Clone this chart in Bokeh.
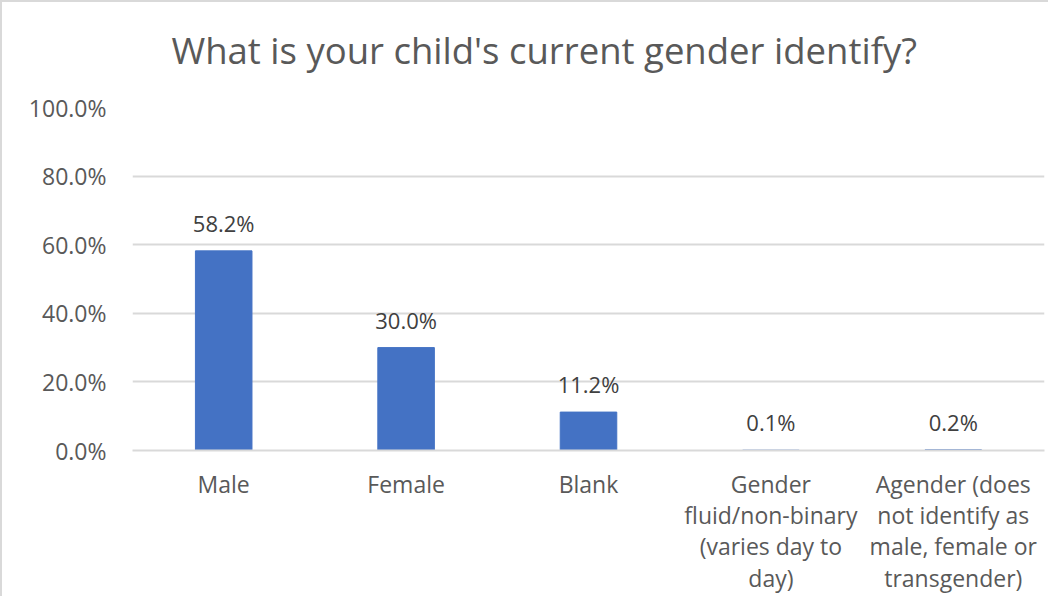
from bokeh.plotting import figure
from bokeh.models import ColumnDataSource, NumeralTickFormatter, FactorRange, Range1d
from bokeh.core.properties import value
from bokeh.embed import file_html
from bokeh.resources import INLINE

title_text = "What is your child's current gender identify?"
categories = ["Male", "Female", "Blank",
              "Gender\nfluid/non-binary\n(varies day to\nday)",
              "Agender (does\nnot identify as\nmale, female or\ntransgender)"]
shares = [0.582, 0.300, 0.112, 0.001, 0.002]
labels = ["58.2%", "30.0%", "11.2%", "0.1%", "0.2%"]

FONT = "Open Sans"
src = ColumnDataSource(dict(cat=categories, val=shares, lab=labels))

p = figure(x_range=FactorRange(*categories), y_range=Range1d(0, 1),
           frame_width=912, frame_height=343, output_backend="svg", toolbar_location=None,
           title=title_text + "\n ",
           min_border_left=130, min_border_right=4, min_border_top=104, min_border_bottom=4)
p.styles = {"border-left": "2px solid #d9d9d9", "border-top": "2px solid #d9d9d9"}

p.title.align = "left"
p.title.text_font = FONT
p.title.text_font_size = "36.5px"
p.title.text_font_style = "normal"
p.title.text_color = "#595959"
p.title.text_line_height = 0.25
p.title.offset = 39
p.title.standoff = 40

p.vbar(x="cat", top="val", width=0.31, source=src, fill_color="#4472C4", line_color="#4472C4")
p.text(x="cat", y="val", text="lab", source=src, text_align="center", text_baseline="alphabetic",
       y_offset=-28, text_font=value(FONT), text_font_size="22px", text_color="#404040")

p.outline_line_color = None
p.xgrid.grid_line_color = None
p.ygrid.grid_line_color = "#d9d9d9"
p.ygrid.grid_line_width = 2
p.yaxis.ticker = [0, 0.2, 0.4, 0.6, 0.8, 1.0]
p.yaxis.formatter = NumeralTickFormatter(format="0.0%")
p.yaxis.axis_line_color = None
p.yaxis.major_tick_line_color = None
p.yaxis.minor_tick_line_color = None
p.yaxis.major_label_standoff = 20
p.yaxis.major_label_text_font = FONT
p.yaxis.major_label_text_font_size = "23px"
p.yaxis.major_label_text_color = "#595959"

p.xaxis.axis_line_color = "#d9d9d9"
p.xaxis.axis_line_width = 2
p.xaxis.major_tick_line_color = None
p.xaxis.minor_tick_line_color = None
p.xaxis.major_label_standoff = 11
p.xaxis.major_label_text_font = FONT
p.xaxis.major_label_text_font_size = "23px"
p.xaxis.major_label_text_color = "#595959"
p.xaxis.major_label_text_line_height = 0.98

open("out.html", "w").write(file_html(p, INLINE))
